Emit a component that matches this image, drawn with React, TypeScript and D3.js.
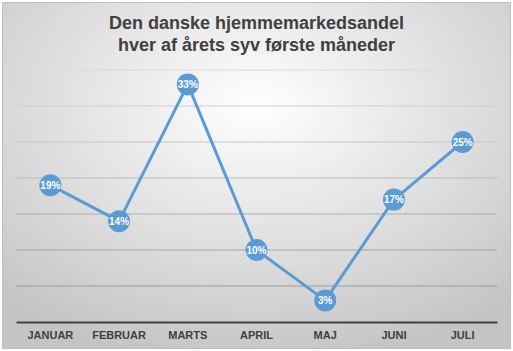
import React, { useRef, useEffect } from 'react';
import * as d3 from 'd3';

// chart data
const months = ['JANUAR', 'FEBRUAR', 'MARTS', 'APRIL', 'MAJ', 'JUNI', 'JULI'];
const shares = [19, 14, 33, 10, 3, 17, 25];
const gridTicks = [0, 5, 10, 15, 20, 25, 30, 35];
const titleLines = ['Den danske hjemmemarkedsandel', 'hver af årets syv første måneder'];

export default function App() {
  const svgRef = useRef<SVGSVGElement>(null);

  useEffect(() => {
    const w = 513;
    const h = 351;
    const margin = { top: 70, right: 16, bottom: 29, left: 16 };
    const innerWidth = w - margin.left - margin.right;
    const innerHeight = 322 - margin.top;

    const svg = d3.select(svgRef.current);
    svg.selectAll('*').remove();

    // background gradient
    const defs = svg.append('defs');
    const bg = defs.append('radialGradient')
      .attr('id', 'bg')
      .attr('cx', '50%').attr('cy', '30%').attr('r', '75%');
    bg.append('stop').attr('offset', '0%').attr('stop-color', '#ffffff');
    bg.append('stop').attr('offset', '100%').attr('stop-color', '#c4c4c4');

    svg.append('rect')
      .attr('x', 2.5).attr('y', 2.5)
      .attr('width', w - 5).attr('height', h - 5)
      .attr('fill', 'url(#bg)')
      .attr('stroke', '#bfbfbf');

    // title
    svg.append('text')
      .attr('x', w / 2)
      .attr('text-anchor', 'middle')
      .attr('font-family', 'Liberation Sans, Arial, sans-serif')
      .attr('font-weight', 'bold')
      .attr('font-size', 18)
      .attr('fill', '#404040')
      .selectAll('tspan')
      .data(titleLines)
      .join('tspan')
      .attr('x', w / 2)
      .attr('y', (d, i) => 29 + i * 22)
      .text(d => d);

    const xScale = d3.scaleBand()
      .domain(months)
      .range([0, innerWidth]);

    const yScale = d3.scaleLinear()
      .domain([0, 35])
      .range([innerHeight, 0]);

    const g = svg.append('g')
      .attr('transform', `translate(${margin.left}, ${margin.top})`);

    // grid lines, darker towards the bottom
    const gridColor = d3.scaleLinear<string>()
      .domain([5, 35])
      .range(['#9a9a9a', '#dadada']);

    g.selectAll('line.grid')
      .data(gridTicks.filter(t => t > 0))
      .join('line')
      .attr('class', 'grid')
      .attr('x1', 0)
      .attr('x2', innerWidth)
      .attr('y1', d => yScale(d))
      .attr('y2', d => yScale(d))
      .attr('stroke', d => gridColor(d))
      .attr('stroke-width', 1);

    // x axis baseline + labels
    const xAxis = d3.axisBottom(xScale).tickSize(0).tickPadding(9);
    const xAxisGroup = g.append('g')
      .attr('transform', `translate(0, ${innerHeight})`)
      .call(xAxis);
    xAxisGroup.select('.domain')
      .attr('stroke', '#404040')
      .attr('stroke-width', 2);
    xAxisGroup.selectAll('text')
      .attr('font-family', 'Liberation Sans, Arial, sans-serif')
      .attr('font-weight', 'bold')
      .attr('font-size', 11)
      .attr('fill', '#404040');

    const cx = (i: number) => (xScale(months[i]) as number) + xScale.bandwidth() / 2;

    // line
    const line = d3.line<number>()
      .x((d, i) => cx(i))
      .y(d => yScale(d));

    g.append('path')
      .datum(shares)
      .attr('fill', 'none')
      .attr('stroke', '#5b9bd5')
      .attr('stroke-width', 3)
      .attr('stroke-linejoin', 'round')
      .attr('d', line);

    // markers
    g.selectAll('circle.pt')
      .data(shares)
      .join('circle')
      .attr('class', 'pt')
      .attr('cx', (d, i) => cx(i))
      .attr('cy', d => yScale(d))
      .attr('r', 11)
      .attr('fill', '#5b9bd5');

    g.selectAll('text.lbl')
      .data(shares)
      .join('text')
      .attr('class', 'lbl')
      .attr('x', (d, i) => cx(i))
      .attr('y', d => yScale(d) + 3.5)
      .attr('text-anchor', 'middle')
      .attr('font-family', 'Liberation Sans, Arial, sans-serif')
      .attr('font-weight', 'bold')
      .attr('font-size', 10)
      .attr('fill', '#ffffff')
      .text(d => `${d}%`);
  }, []);

  return (
    <svg
      ref={svgRef}
      width={513}
      height={351}
      style={{ position: 'absolute', left: 0, top: 0 }}
    />
  );
}
